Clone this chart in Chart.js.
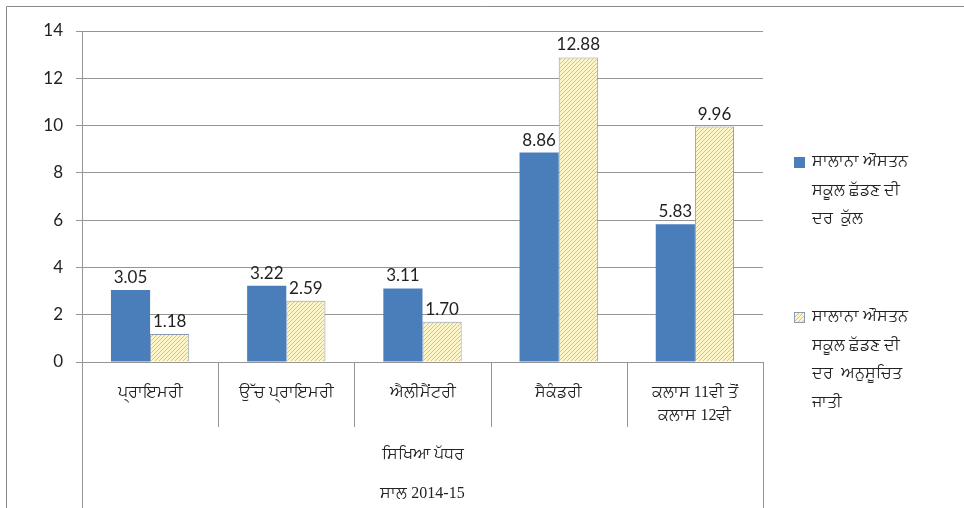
<!DOCTYPE html>
<html>
<head>
<meta charset="utf-8">
<script src="https://cdn.jsdelivr.net/npm/chart.js@4.4.1/dist/chart.umd.min.js"></script>
<style>
    html, body { margin: 0; padding: 0; background: #fff; }
</style>
</head>
<body>
<canvas id="dropoutChart" width="964" height="508"></canvas>
<script>
// Chart data
var categories = ['ਪ੍ਰਾਇਮਰੀ', 'ਉੱਚ ਪ੍ਰਾਇਮਰੀ', 'ਐਲੀਮੈਂਟਰੀ', 'ਸੈਕੰਡਰੀ', ['ਕਲਾਸ 11ਵੀ ਤੋਂ', 'ਕਲਾਸ 12ਵੀ']];
var totalRate = [3.05, 3.22, 3.11, 8.86, 5.83];
var scRate = [1.18, 2.59, 1.70, 12.88, 9.96];
var seriesNames = [
    ['ਸਾਲਾਨਾ ਔਸਤਨ', 'ਸਕੂਲ ਛੱਡਣ ਦੀ', 'ਦਰ  ਕੁੱਲ'],
    ['ਸਾਲਾਨਾ ਔਸਤਨ', 'ਸਕੂਲ ਛੱਡਣ ਦੀ', 'ਦਰ  ਅਨੁਸੂਚਿਤ', 'ਜਾਤੀ']
];
var axisTitles = ['ਸਿਖਿਆ ਪੱਧਰ', 'ਸਾਲ 2014-15'];
var yMin = 0, yMax = 14, yStep = 2;

(function () {
    var canvas = document.getElementById('dropoutChart');
    var ctx = canvas.getContext('2d');
    var numFont = "'Lato', 'Open Sans', sans-serif";
    // serif digits, Gurmukhi falls back to the system font
    var pbFont = "'Liberation Serif', 'Noto Sans', sans-serif";
    var lineGray = '#959595';
    var blue = '#4a7ebb';

    // yellow diagonal hatch
    function makeHatch() {
        var p = document.createElement('canvas');
        p.width = 4; p.height = 4;
        var g = p.getContext('2d');
        g.fillStyle = '#fdf5c8';
        g.fillRect(0, 0, 4, 4);
        g.strokeStyle = '#e3c75e';
        g.lineWidth = 1;
        g.beginPath();
        g.moveTo(0, 4); g.lineTo(4, 0);
        g.moveTo(-2, 2); g.lineTo(2, -2);
        g.moveTo(2, 6); g.lineTo(6, 2);
        g.stroke();
        return ctx.createPattern(p, 'repeat');
    }
    var hatch = makeHatch();

    // value labels over the bars
    var valueLabels = {
        id: 'valueLabels',
        afterDatasetsDraw: function (chart) {
            var c = chart.ctx;
            c.save();
            c.font = '17px ' + numFont;
            c.fillStyle = '#222';
            c.textAlign = 'center';
            c.textBaseline = 'bottom';
            chart.data.datasets.forEach(function (ds, di) {
                chart.getDatasetMeta(di).data.forEach(function (bar, i) {
                    c.fillText(ds.data[i].toFixed(2), bar.x, bar.y - 4);
                });
            });
            c.restore();
        }
    };

    // frame, category dividers, axis titles and legend
    var decor = {
        id: 'decor',
        afterDraw: function (chart) {
            var c = chart.ctx;
            var xs = chart.scales.x;
            var area = chart.chartArea;
            var n = categories.length;
            var cw = (xs.right - xs.left) / n;
            c.save();
            c.lineWidth = 1;

            // outer frame (top and left edges)
            c.strokeStyle = '#8a8a8a';
            c.beginPath();
            c.moveTo(6.5, chart.height);
            c.lineTo(6.5, 6.5);
            c.lineTo(chart.width, 6.5);
            c.stroke();

            // category dividers
            c.strokeStyle = lineGray;
            c.beginPath();
            for (var i = 0; i <= n; i++) {
                var x = Math.round(xs.left + i * cw) + 0.5;
                var bottom = (i === 0 || i === n) ? chart.height : area.bottom + 65;
                c.moveTo(x, area.bottom);
                c.lineTo(x, bottom);
            }
            c.stroke();

            // axis titles
            c.fillStyle = '#222';
            c.textAlign = 'center';
            c.textBaseline = 'middle';
            c.font = '16px ' + pbFont;
            var cx = (area.left + area.right) / 2;
            c.fillText(axisTitles[0], cx, 455);
            c.fillText(axisTitles[1], cx, 494);

            // legend
            var items = [
                { fill: blue, border: blue, top: 162 },
                { fill: hatch, border: '#8a9ab0', top: 317 }
            ];
            c.font = '16px ' + pbFont;
            c.textAlign = 'left';
            items.forEach(function (it, k) {
                c.fillStyle = it.fill;
                c.fillRect(794, it.top - 5, 11, 11);
                c.strokeStyle = it.border;
                c.strokeRect(794.5, it.top - 4.5, 10, 10);
                c.fillStyle = '#222';
                seriesNames[k].forEach(function (line, j) {
                    c.fillText(line, 812, it.top + j * 28.5);
                });
            });
            c.restore();
        }
    };

    new Chart(canvas, {
        type: 'bar',
        data: {
            labels: categories,
            datasets: [
                {
                    label: seriesNames[0].join(' '),
                    data: totalRate,
                    backgroundColor: blue,
                    borderWidth: 0
                },
                {
                    label: seriesNames[1].join(' '),
                    data: scRate,
                    backgroundColor: hatch,
                    borderColor: '#8a9ab0',
                    borderWidth: 1
                }
            ]
        },
        options: {
            responsive: false,
            animation: false,
            layout: {
                padding: { left: 0, top: 31, right: 201, bottom: 0 }
            },
            datasets: {
                bar: {
                    categoryPercentage: 0.575,
                    barPercentage: 1
                }
            },
            plugins: {
                legend: { display: false },
                tooltip: { enabled: false }
            },
            scales: {
                x: {
                    grid: { display: false },
                    border: { display: false },
                    ticks: {
                        padding: 11,
                        color: '#222',
                        maxRotation: 0,
                        autoSkip: false,
                        font: { size: 16, family: pbFont, lineHeight: 1.45 }
                    },
                    afterFit: function (scale) { scale.height = 146; }
                },
                y: {
                    min: yMin,
                    max: yMax,
                    ticks: {
                        stepSize: yStep,
                        padding: 13,
                        color: '#222',
                        font: { size: 17, family: numFont }
                    },
                    grid: {
                        color: lineGray,
                        tickLength: 6
                    },
                    border: { display: true, color: lineGray },
                    afterFit: function (scale) { scale.width = 82; }
                }
            }
        },
        plugins: [valueLabels, decor]
    });
})();
</script>
</body>
</html>
